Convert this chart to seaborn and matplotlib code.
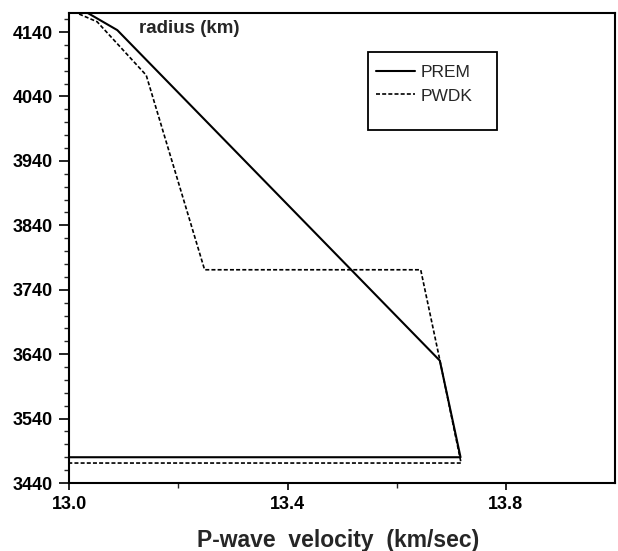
import matplotlib
matplotlib.use("Agg")
import matplotlib.pyplot as plt
from matplotlib.ticker import MultipleLocator, FixedLocator
from matplotlib.patches import Rectangle
import seaborn as sns
import pandas as pd

# Data
prem_vp = [13.033, 13.088, 13.679, 13.717, 13.0]
prem_r = [4170, 4143, 3630, 3480, 3480]
pwdk_vp = [13.018, 13.051, 13.141, 13.248, 13.644, 13.678, 13.718, 13.0]
pwdk_r = [4168, 4156, 4073, 3771, 3771, 3635, 3471, 3471]
x_ticks = [13.0, 13.4, 13.8]
x_ticklabels = ["13.0", "13.4", "13.8"]
y_ticks = [3440, 3540, 3640, 3740, 3840, 3940, 4040, 4140]

sns.set_style("ticks")
plt.rcParams['font.family'] = ['Liberation Sans', 'DejaVu Sans']

df = pd.concat([
    pd.DataFrame({"vp": prem_vp, "r": prem_r, "model": "PREM"}),
    pd.DataFrame({"vp": pwdk_vp, "r": pwdk_r, "model": "PWDK"}),
], ignore_index=True)

fig = plt.figure(figsize=(6.18, 5.51), dpi=100)
ax = fig.add_axes([0.1121, 0.1234, 0.883, 0.8535])

sns.lineplot(data=df[df.model == "PREM"], x="vp", y="r", sort=False, estimator=None,
             color="black", lw=1.5, ax=ax, label="PREM")
sns.lineplot(data=df[df.model == "PWDK"], x="vp", y="r", sort=False, estimator=None,
             color="black", lw=1.2, ax=ax, label="PWDK", linestyle=(0, (2.4, 1.3)))

ax.set_xlim(13.0, 14.0)
ax.set_ylim(3440, 4170)
ax.xaxis.set_major_locator(FixedLocator(x_ticks))
ax.set_xticklabels(x_ticklabels)
ax.xaxis.set_minor_locator(FixedLocator([13.2, 13.6]))
ax.yaxis.set_major_locator(FixedLocator(y_ticks))
ax.yaxis.set_minor_locator(MultipleLocator(20))

for s in ax.spines.values():
    s.set_linewidth(1.5)
    s.set_color("black")
    s.set_visible(True)

ax.tick_params(axis="x", which="major", direction="out", length=5, width=1.2,
               labelsize=13, colors="black", pad=4)
ax.tick_params(axis="y", which="major", direction="out", length=7, width=1.2,
               labelsize=13, colors="black", pad=5)
ax.tick_params(axis="both", which="minor", direction="out", length=3.5, width=1.0)
for lab in ax.get_xticklabels() + ax.get_yticklabels():
    lab.set_fontweight("bold")

ax.set_xlabel("")
ax.set_ylabel("")
fig.text(338 / 618, 1 - 547 / 551, "P-wave  velocity  (km/sec)", fontsize=16.5,
         fontweight="bold", ha="center", va="baseline")
ax.text(0.128, 0.967, "radius (km)", transform=ax.transAxes, fontsize=13.5,
        fontweight="bold", va="center", ha="left")

leg = ax.legend(loc="upper left", bbox_to_anchor=(0.562, 0.889), frameon=False,
                fontsize=12.5, handlelength=2.25, borderpad=0, labelspacing=0.48,
                handletextpad=0.3, borderaxespad=0)
ax.add_patch(Rectangle((0.547, 0.7506), 0.236, 0.1658, transform=ax.transAxes,
                       fill=False, edgecolor="black", lw=1.3, zorder=5))

fig.savefig("out.png", dpi=100)
